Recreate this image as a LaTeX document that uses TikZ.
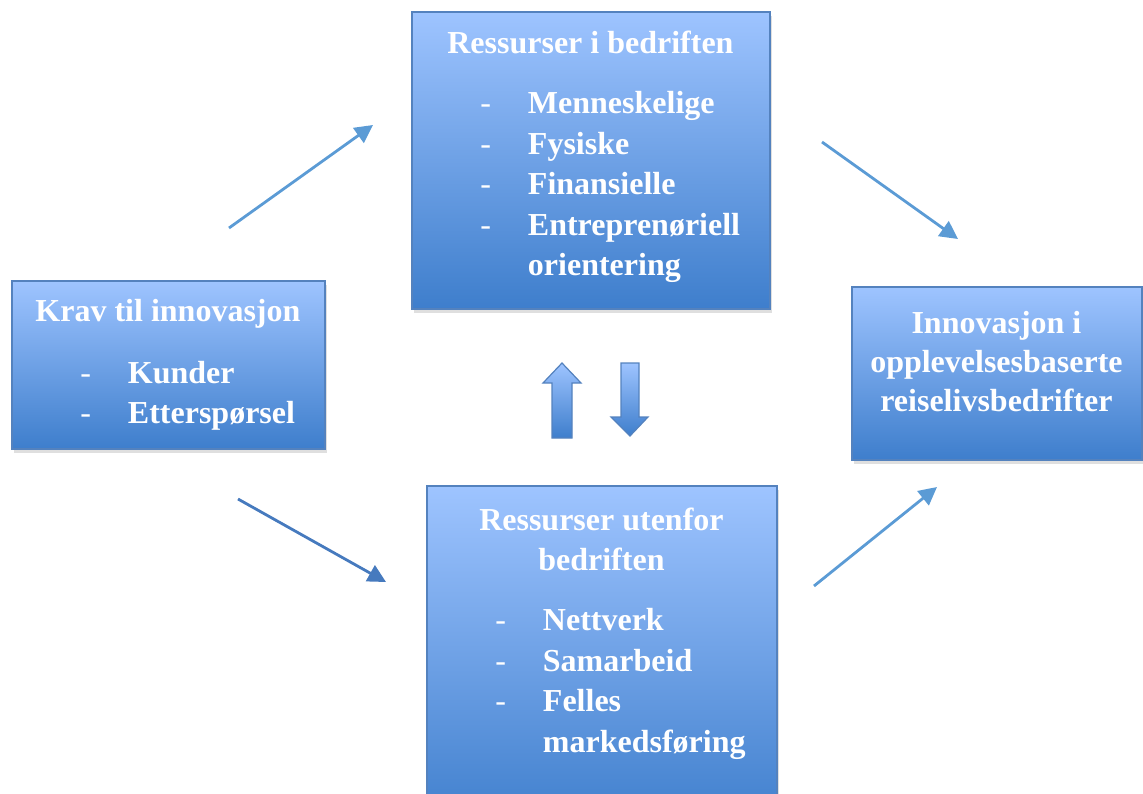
\documentclass[tikz,border=0pt]{standalone}
\usepackage{fontspec}
\setmainfont{Liberation Serif}
\usetikzlibrary{arrows.meta,positioning,shadows}
\definecolor{boxtop}{RGB}{158,196,255}
\definecolor{boxbot}{RGB}{62,126,204}
\definecolor{boxline}{RGB}{84,130,190}
\definecolor{pilfarge}{RGB}{91,155,213}
\definecolor{pilmork}{RGB}{70,122,190}
\tikzset{>=latex,
  boks/.style={draw=boxline, line width=1.5pt, top color=boxtop, bottom color=boxbot,
    drop shadow={shadow xshift=1.5pt, shadow yshift=-4pt, opacity=0.25}, inner sep=0pt},
  tekst/.style={anchor=base west, inner sep=0pt, text=white, font=\bfseries\fontsize{32}{40.5}\selectfont},
  pil/.style={draw=pilfarge, line width=2.8pt, -{Triangle[length=18pt,width=18pt]}},
  blokk/.style={draw=boxline, line width=1.2pt, top color=boxtop, bottom color=boxbot}}
\newcommand{\punkt}[1]{\hspace*{69pt}\makebox[47.5pt][l]{\mdseries -}#1\par}
\begin{document}
\begin{tikzpicture}[x=1pt,y=-1pt]
    \clip (0,0) rectangle (1143,793);
    % boxes
    \node [boks,minimum width=358pt,minimum height=297pt] (intern) at (591,160.5) {};
    \node [boks,minimum width=313pt,minimum height=168pt] (krav) at (168.5,365) {};
    \node [boks,minimum width=350pt,minimum height=344pt] (ekstern) at (602,658) {};
    \node [boks,minimum width=290pt,minimum height=173pt] (innov) at (997,373.5) {};

    \node [tekst] (interntekst) at ([yshift=-42pt]intern.north west) {\parbox[t]{358pt}{\centering Ressurser i bedriften\par\vspace{20pt}\raggedright
      \punkt{Menneskelige}\punkt{Fysiske}\punkt{Finansielle}\punkt{Entreprenøriell}\hspace*{116.5pt}orientering}};
    \node [tekst] (kravtekst) at ([yshift=-41pt]krav.north west) {\parbox[t]{313pt}{\centering Krav til innovasjon\par\vspace{21.5pt}\raggedright
      \punkt{Kunder}\punkt{Etterspørsel}}};
    \node [tekst] (eksterntekst) at ([yshift=-45pt]ekstern.north west) {\parbox[t]{350pt}{\centering Ressurser utenfor\\bedriften\par\vspace{19.5pt}\raggedright
      \punkt{Nettverk}\punkt{Samarbeid}\punkt{Felles}\hspace*{116.5pt}markedsføring}};
    \node [tekst,font=\bfseries\fontsize{32}{39}\selectfont] (innovtekst) at ([yshift=-47pt]innov.north west) {\parbox[t]{290pt}{\centering Innovasjon i\\opplevelsesbaserte\\reiselivsbedrifter}};

    % block arrows
    \path [blokk] (552,438) -- (552,383) -- (543,383) -- (562,363) -- (581,383) -- (572,383) -- (572,438) -- cycle;
    \path [blokk] (621,363) -- (639,363) -- (639,417) -- (648,417) -- (630,436) -- (611,417) -- (621,417) -- cycle;

    % arrows
    \coordinate (k1) at (229,228); \coordinate (i1) at (373,125);
    \coordinate (i2) at (822,142); \coordinate (n1) at (958,239);
    \coordinate (k2) at (238,499); \coordinate (e1) at (386,582);
    \coordinate (e2) at (814,586); \coordinate (n2) at (937,487);
    \draw [pil] (k1) -- (i1);
    \draw [pil] (i2) -- (n1);
    \draw [pil,draw=pilmork] (k2) -- (e1);
    \draw [pil] (e2) -- (n2);
\end{tikzpicture}
\end{document}
